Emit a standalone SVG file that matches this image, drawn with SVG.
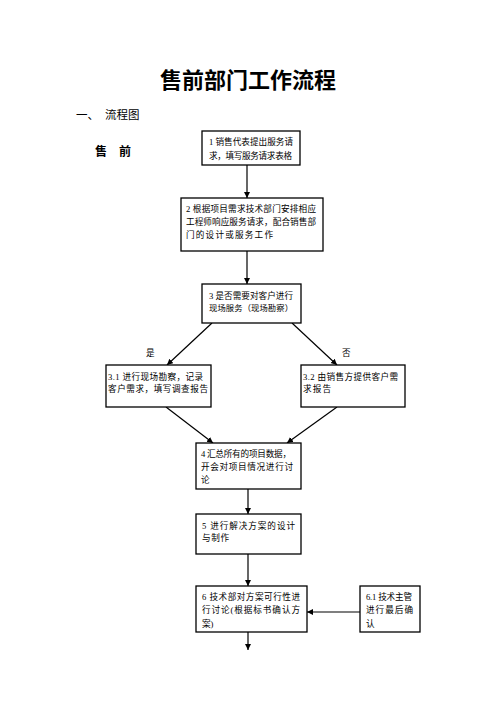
<svg xmlns="http://www.w3.org/2000/svg" width="496" height="702" viewBox="0 0 496 702">
<style>
text{font-family:"Liberation Serif","Noto Sans CJK SC",serif;fill:#000}
.t{font-size:8.6px}
.box{fill:#fff;stroke:#000;stroke-width:1.3}
.ln{stroke:#000;stroke-width:1.2;fill:none}
.title{font-size:22px;font-weight:bold}
</style>
<defs>
<marker id="ah" markerUnits="userSpaceOnUse" markerWidth="7" markerHeight="7" refX="6" refY="3" orient="auto">
<path d="M0,0 L6,3 L0,6 z" fill="#000"/>
</marker>
</defs>
<rect width="496" height="702" fill="#fff"/>
<text class="title" x="248" y="88" text-anchor="middle">售前部门工作流程</text>
<text x="76" y="119" style="font-size:11.5px">一、</text>
<text x="105" y="119" style="font-size:11.5px">流程图</text>
<text x="95" y="156" style="font-size:12px;font-weight:bold">售</text>
<text x="119" y="156" style="font-size:12px;font-weight:bold">前</text>

<g id="connectors">
<line class="ln" x1="247" y1="165" x2="247" y2="198" marker-end="url(#ah)"/>
<line class="ln" x1="247" y1="251" x2="247" y2="284" marker-end="url(#ah)"/>
<line class="ln" x1="212" y1="323" x2="167" y2="365" marker-end="url(#ah)"/>
<line class="ln" x1="292" y1="323" x2="337" y2="365" marker-end="url(#ah)"/>
<line class="ln" x1="166" y1="407" x2="213" y2="443" marker-end="url(#ah)"/>
<line class="ln" x1="337" y1="407" x2="287" y2="443" marker-end="url(#ah)"/>
<line class="ln" x1="248" y1="489" x2="248" y2="514" marker-end="url(#ah)"/>
<line class="ln" x1="248" y1="554" x2="248" y2="586" marker-end="url(#ah)"/>
<line class="ln" x1="360" y1="612" x2="307" y2="612" marker-end="url(#ah)"/>
<line class="ln" x1="248" y1="632" x2="248" y2="650" marker-end="url(#ah)"/>
<text class="t" x="146" y="355.5">是</text>
<text class="t" x="342" y="355.5">否</text>
</g>

<g id="n1">
<rect class="box" x="202" y="131" width="98" height="34"/>
<text class="t" x="209" y="145" textLength="84">1 销售代表提出服务请</text>
<text class="t" x="209" y="158.5" textLength="83">求，填写服务请求表格</text>
</g>
<g id="n2">
<rect class="box" x="181" y="198" width="142" height="53"/>
<text class="t" x="186" y="212" textLength="130">2 根据项目需求技术部门安排相应</text>
<text class="t" x="186" y="225" textLength="130">工程师响应服务请求，配合销售部</text>
<text class="t" x="186" y="238" textLength="87">门的设计或服务工作</text>
</g>
<g id="n3">
<rect class="box" x="202" y="284" width="99" height="39"/>
<text class="t" x="209" y="298.5" textLength="84">3 是否需要对客户进行</text>
<text class="t" x="209" y="310.5" textLength="84" style="font-size:8.3px">现场服务（现场勘察）</text>
</g>
<g id="n3_1">
<rect class="box" x="106" y="365" width="105" height="42"/>
<text class="t" x="108" y="379.5" textLength="95">3.1 进行现场勘察，记录</text>
<text class="t" x="108" y="391.5" textLength="100">客户需求，填写调查报告</text>
</g>
<g id="n3_2">
<rect class="box" x="301" y="365" width="104" height="42"/>
<text class="t" x="303" y="379.5" textLength="95">3.2 由销售方提供客户需</text>
<text class="t" x="303" y="391.5" textLength="28">求报告</text>
</g>
<g id="n4">
<rect class="box" x="196" y="443" width="105" height="46"/>
<text class="t" x="201" y="456.5" textLength="90">4 汇总所有的项目数据，</text>
<text class="t" x="201" y="469.5" textLength="92">开会对项目情况进行讨</text>
<text class="t" x="201" y="482.5">论</text>
</g>
<g id="n5">
<rect class="box" x="196" y="514" width="105" height="40"/>
<text class="t" x="202" y="528.5" textLength="93">5  进行解决方案的设计</text>
<text class="t" x="202" y="540.5" textLength="27">与制作</text>
</g>
<g id="n6">
<rect class="box" x="196" y="586" width="111" height="46"/>
<text class="t" x="202" y="599.5" textLength="98">6  技术部对方案可行性进</text>
<text class="t" x="202" y="613" textLength="98">行讨论(根据标书确认方</text>
<text class="t" x="202" y="626.5">案)</text>
</g>
<g id="n6_1">
<rect class="box" x="360" y="586" width="60" height="46"/>
<text class="t" x="366" y="599.5" textLength="46">6.1 技术主管</text>
<text class="t" x="366" y="613" textLength="47">进行最后确</text>
<text class="t" x="366" y="626.5">认</text>
</g>
</svg>
